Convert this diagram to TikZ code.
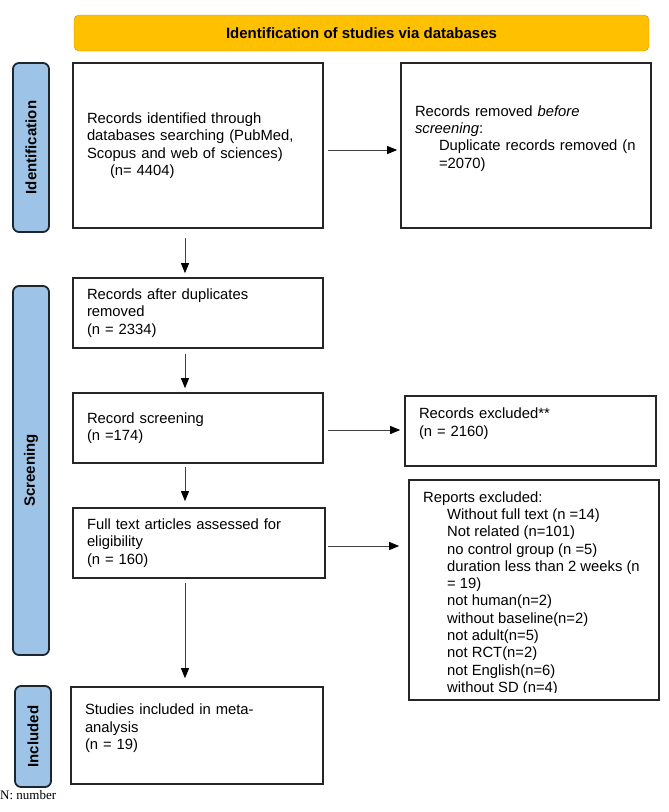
\documentclass[tikz,border=0pt]{standalone}
\usepackage{fontspec}
\setmainfont{Liberation Sans}
\newfontfamily\notefont{Liberation Serif}
\usepackage{xcolor}
\usepackage{tikz}
\usetikzlibrary{positioning, calc, arrows.meta}
\definecolor{headeryellow}{RGB}{255,192,0}
\definecolor{headeredge}{RGB}{200,150,10}
\definecolor{stageblue}{RGB}{157,195,230}
\definecolor{stageedge}{RGB}{28,37,48}

\begin{document}
\begin{tikzpicture}[x=1pt, y=-1pt,
	every node/.style={font=\fontsize{14.8}{17.4}\selectfont},
	flowbox/.style={draw=black!85, line width=1.6pt, align=left, inner xsep=14pt, inner ysep=0pt},
	stage/.style={draw=stageedge, line width=1.8pt, fill=stageblue, rounded corners=6pt, minimum height=36pt, rotate=90, font=\fontsize{15}{18}\selectfont\bfseries},
	flow/.style={draw=black!75, line width=0.8pt, -{Triangle[length=10pt,width=8pt,color=black,fill=black]}}]
	\useasboundingbox (0,0) rectangle (669,812);
	\coordinate (axis) at (185,0);
	%% header and stage bars
	\node[draw=headeredge, fill=headeryellow, rounded corners=5pt, minimum width=575pt, minimum height=36pt, font=\fontsize{15}{18}\selectfont\bfseries] (head) at (361.5,33) {Identification of studies via databases};
	\node[stage, minimum width=169pt] (sident) at (31,147.5) {Identification};
	\node[stage, minimum width=369pt] (sscreen) at (31,470.5) {Screening};
	\node[stage, minimum width=101pt] (sincl) at (33,736.5) {Included};
	%% boxes
	\node[flowbox, text width=222pt, minimum height=165pt] (idb) at (198,145.5) {Records identified through\\databases searching (PubMed,\\Scopus and web of sciences)\\\hspace*{23pt}(n= 4404)};
	\node[flowbox, text width=222pt, minimum height=165pt] (rem) at (526,145.5) {Records removed \textit{before}\\\textit{screening}:\\\hspace*{24pt}Duplicate records removed (n\\\hspace*{24pt}=2070)\\\mbox{}};
	\node[flowbox, text width=222pt, minimum height=70pt] (dup) at (198,313) {Records after duplicates\\removed\\(n = 2334)};
	\node[flowbox, text width=222pt, minimum height=70pt] (scr) at (198,428) {Record screening\\(n =174)};
	\node[flowbox, text width=223pt, minimum height=70pt] (exc) at (530.5,431) {Records excluded**\\(n = 2160)\\\mbox{}};
	\node[flowbox, text width=224pt, minimum height=70pt] (full) at (199,543) {Full text articles assessed for\\eligibility\\(n = 160)};
	\node[flowbox, text width=222pt, minimum height=220pt] (rep) at (534,590) {};
	\begin{scope}
		\clip (rep.north west) rectangle ([yshift=8pt]rep.south east);
		\node[anchor=north west, inner sep=0pt, align=left, font=\fontsize{14.8}{17.3}\selectfont] (reptext) at (423,491.2) {Reports excluded:\\
			\hspace*{24pt}Without full text (n =14)\\
			\hspace*{24pt}Not related (n=101)\\
			\hspace*{24pt}no control group (n =5)\\
			\hspace*{24pt}duration less than 2 weeks (n\\
			\hspace*{24pt}= 19)\\
			\hspace*{24pt}not human(n=2)\\
			\hspace*{24pt}without baseline(n=2)\\
			\hspace*{24pt}not adult(n=5)\\
			\hspace*{24pt}not RCT(n=2)\\
			\hspace*{24pt}not English(n=6)\\
			\hspace*{24pt}without SD (n=4)};
	\end{scope}
	\node[flowbox, text width=224pt, minimum height=97pt] (inc) at (197,735.5) {Studies included in meta-\\analysis\\(n = 19)\\\mbox{}};
	\node[anchor=west, inner sep=0pt, font=\notefont\fontsize{13}{15}\selectfont] (note) at (0,795) {N: number};
	%% arrows
	\draw[flow, shorten <=9pt, shorten >=4pt] (idb.south -| axis) -- (dup.north -| axis);
	\draw[flow, shorten <=5pt, shorten >=4pt] (dup.south -| axis) -- (scr.north -| axis);
	\draw[flow, shorten <=3pt, shorten >=6pt] (scr.south -| axis) -- (full.north -| axis);
	\draw[flow, shorten <=4pt, shorten >=8pt] (full.south -| axis) -- (inc.north -| axis);
	\draw[flow, shorten <=4pt, shorten >=3pt] ([yshift=-4.5pt]idb.east) -- ([yshift=-4.5pt]idb.east -| rem.west);
	\draw[flow, shorten <=4pt, shorten >=4pt] ([yshift=-2pt]scr.east) -- ([yshift=-2pt]scr.east -| exc.west);
	\draw[flow, shorten <=2pt, shorten >=9pt] ([yshift=-3pt]full.east) -- ([yshift=-3pt]full.east -| rep.west);
\end{tikzpicture}
\end{document}
